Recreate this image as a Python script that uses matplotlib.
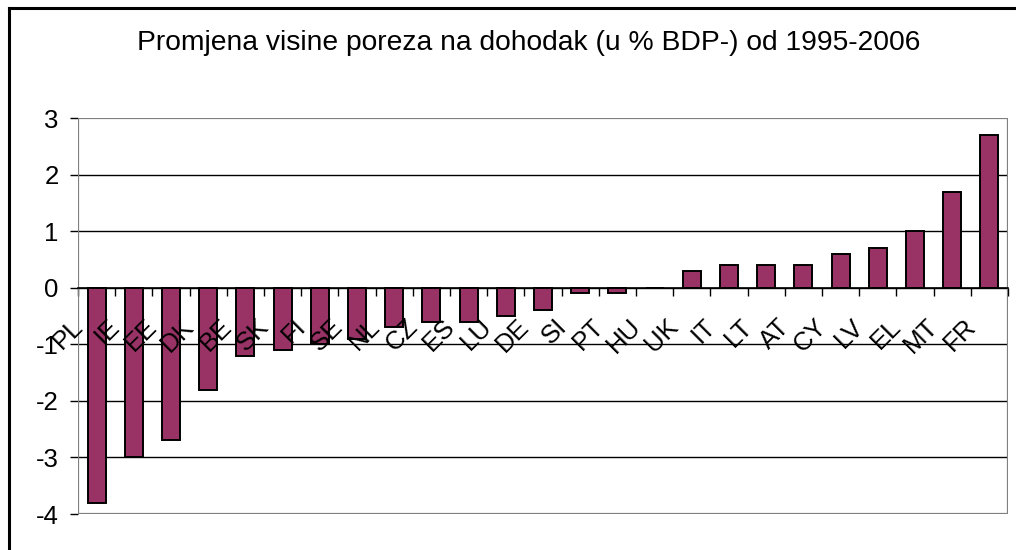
import matplotlib.pyplot as plt
import matplotlib.patches as patches
from matplotlib.lines import Line2D
from matplotlib.ticker import FixedLocator

plt.rcParams["font.family"] = ["Liberation Sans", "DejaVu Sans"]
plt.rcParams["axes.unicode_minus"] = False

# data
countries = ["PL", "IE", "EE", "DK", "BE", "SK", "FI", "SE", "NL", "CZ", "ES", "LU",
             "DE", "SI", "PT", "HU", "UK", "IT", "LT", "AT", "CY", "LV", "EL", "MT", "FR"]
change = [-3.8, -3.0, -2.7, -1.8, -1.2, -1.1, -1.0, -0.9, -0.7, -0.6, -0.6, -0.5,
          -0.4, -0.1, -0.1, 0.0, 0.3, 0.4, 0.4, 0.4, 0.6, 0.7, 1.0, 1.7, 2.7]
y_ticks = [-4, -3, -2, -1, 0, 1, 2, 3]
title = "Promjena visine poreza na dohodak (u % BDP-) od 1995-2006"

fig = plt.figure(figsize=(10.16, 5.5), dpi=100)
ax = fig.add_axes([78 / 1016, 1 - 514 / 550, 930 / 1016, 396 / 550])

x = range(len(countries))
ax.bar(x, change, width=0.48, color="#993366", edgecolor="black", linewidth=1.4, zorder=3)

ax.set_xlim(-0.5, len(countries) - 0.5)
ax.set_ylim(min(y_ticks), max(y_ticks))

# gridlines
for v in y_ticks[1:-1]:
    ax.axhline(v, color="black", linewidth=1, zorder=1)

# category axis at zero
for s in ["top", "right", "left"]:
    ax.spines[s].set_visible(False)
ax.spines["bottom"].set_position(("data", 0))
ax.spines["bottom"].set_color("black")
ax.spines["bottom"].set_linewidth(1.2)
ax.spines["bottom"].set_zorder(4)
ax.xaxis.set_major_locator(FixedLocator([i - 0.5 for i in range(len(countries) + 1)]))
ax.set_xticklabels([])
ax.tick_params(axis="x", direction="out", length=6, width=1, color="black")

# plot area frame
ax.add_patch(patches.Rectangle((0, 0), 1, 1, transform=ax.transAxes, fill=False,
                               edgecolor="#808080", linewidth=1.6, zorder=2))

ax.set_yticks(y_ticks)
ax.tick_params(axis="y", direction="out", length=6, width=1, pad=8, labelsize=18.5)

# rotated category labels
for i, lab in enumerate(countries):
    ax.annotate(lab, (i, 0), xytext=(-26, -27), textcoords="offset pixels",
                ha="right", va="top", rotation=45, rotation_mode="anchor",
                fontsize=18.5, annotation_clip=False, zorder=5)

fig.text(529 / 1016, 1 - 43 / 550, title, ha="center", va="center", fontsize=20.3)

# chart border (cropped on right and bottom)
fig.add_artist(Line2D([9 / 1016, 9 / 1016], [0, 1 - 8 / 550], color="black", linewidth=2.2))
fig.add_artist(Line2D([9 / 1016, 1], [1 - 8 / 550, 1 - 8 / 550], color="black", linewidth=2.2))

fig.savefig("out.png", dpi=100)
